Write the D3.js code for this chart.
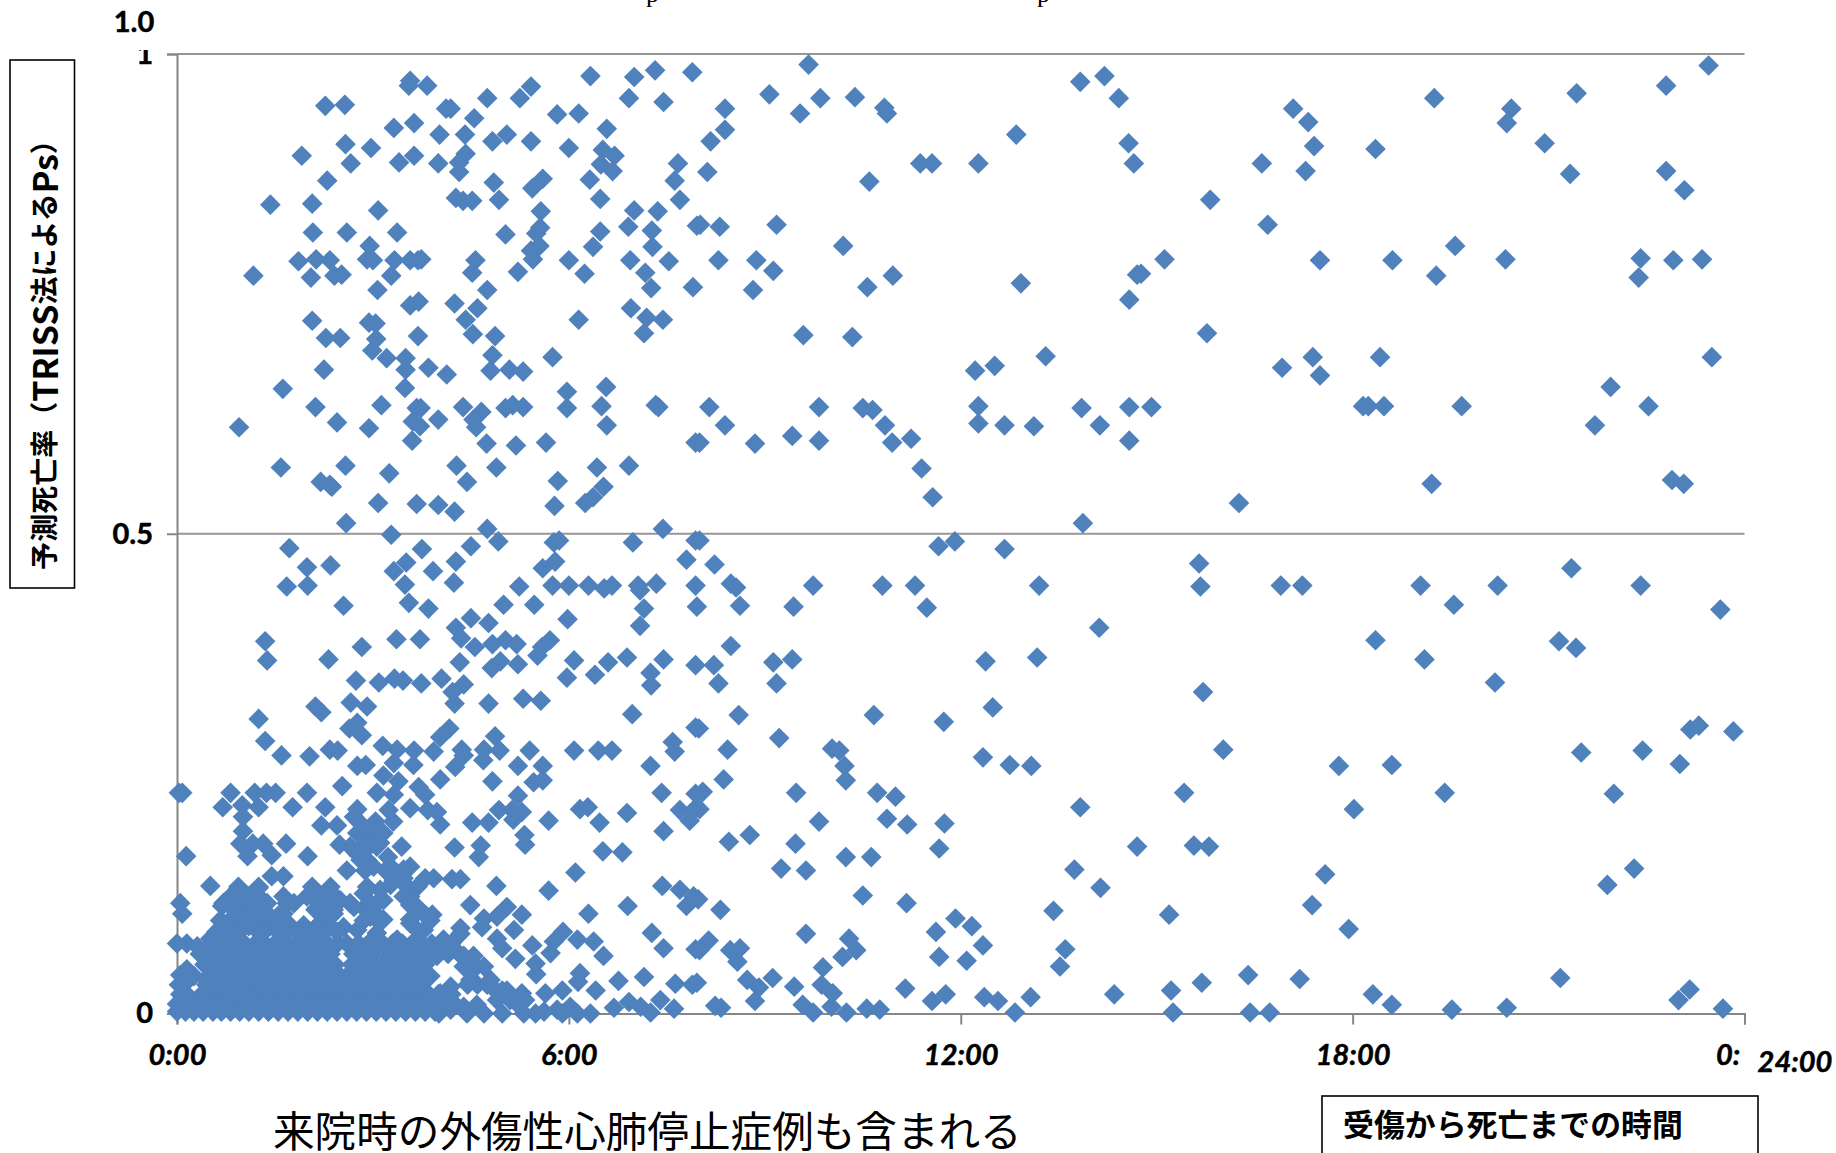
<!DOCTYPE html>
<html lang="ja"><head><meta charset="utf-8">
<script src="https://cdn.jsdelivr.net/npm/d3@7"></script>
<style>html,body{margin:0;padding:0;background:#fff;overflow:hidden}svg{display:block}</style>
</head><body><svg id="c" width="1836" height="1153"></svg>
<script>
const xTickHours=[0,6,12,18,24];
const xTickLabels=["0:00","6:00","12:00","18:00","0:"];
const yTickValues=[1,0.5,0];
const yTickLabels=["1","0.5","0"];
const yAxisTitleParts=["予測死亡率（","TRISS","法による","Ps","）"];
const xAxisTitle="受傷から死亡までの時間";
const caption="来院時の外傷性心肺停止症例も含まれる";
const extraTopLabel="1.0";
const extraEndLabel="24:00";
// [hours from injury to death, predicted survival Ps]
const upperLeft=[[3.57,.972],[3.55,.967],[3.83,.967],[6.33,.977],[7,.976],[7.32,.983],[7.89,.981],[2.27,.946],[2.57,.947],[4.75,.954],[5.42,.966],[5.25,.954],[6.92,.954],[7.45,.95],[4.12,.943],[4.19,.943],[4.55,.933],[5.82,.937],[6.15,.938],[6.58,.922],[3.32,.923],[3.63,.928],[4.02,.916],[4.41,.916],[5.05,.916],[4.83,.909],[5.42,.909],[6,.902],[2.58,.906],[2.97,.902],[1.91,.894],[2.66,.886],[3.4,.887],[3.63,.894],[4,.886],[4.42,.896],[4.32,.887],[4.32,.877],[6.52,.9],[6.7,.894],[6.49,.885],[6.67,.878],[7.67,.886],[7.62,.868],[6.32,.869],[4.85,.866],[2.3,.868],[5.6,.87],[5.44,.86],[6.48,.849],[7.7,.848],[1.43,.843],[2.07,.844],[4.27,.85],[4.38,.847],[4.52,.847],[4.93,.848],[3.08,.837],[5.57,.836],[7,.837],[7.36,.836],[6.91,.82],[7.96,.821],[2.08,.814],[2.6,.814],[3.37,.814],[5.03,.812],[5.56,.819],[5.5,.813],[6.48,.815],[7.27,.816],[2.95,.8],[6.37,.799],[7.28,.799],[5.55,.8],[5.42,.795],[5.45,.786],[1.86,.784],[2.13,.786],[2.34,.785],[2.91,.786],[3,.785],[3.33,.785],[3.57,.785],[3.69,.785],[3.74,.786],[4.57,.785],[6,.785],[6.94,.785],[7.53,.784],[1.17,.769],[2.05,.767],[2.41,.769],[2.52,.77],[3.28,.769],[4.52,.772],[5.22,.773],[6.24,.771],[7.17,.772],[7.9,.757],[3.07,.754],[4.75,.754],[7.26,.756],[3.7,.742],[3.57,.738],[4.25,.74],[4.6,.735],[6.95,.735],[2.07,.722],[2.94,.72],[3.04,.719],[4.42,.723],[6.15,.723],[7.19,.725],[7.44,.723],[4.53,.708],[4.87,.706],[2.28,.704],[2.5,.704],[3.05,.703],[3.69,.706],[7.15,.709],[2.99,.691],[3.21,.683],[3.5,.683],[4.83,.686],[5.75,.684],[3.5,.671],[3.85,.673],[4.13,.666],[2.25,.671],[4.8,.67],[5.09,.671],[5.3,.669]];
const middleLeft=[[1.62,.651],[3.49,.652],[5.97,.648],[6.57,.653],[2.12,.632],[3.13,.634],[3.67,.631],[3.73,.631],[4.38,.632],[4.66,.627],[5.03,.631],[5.14,.634],[5.3,.632],[5.97,.631],[6.5,.633],[7.33,.634],[7.37,.632],[.95,.611],[2.45,.616],[2.94,.61],[3.61,.617],[3.72,.612],[4,.619],[4.54,.619],[4.58,.611],[6.58,.613],[3.6,.597],[4.74,.594],[5.19,.592],[5.65,.595],[7.94,.595],[1.59,.569],[2.58,.571],[3.25,.563],[4.28,.571],[4.89,.569],[6.43,.569],[6.92,.571],[2.2,.554],[2.34,.551],[2.37,.549],[4.44,.554],[5.83,.555],[6.53,.549],[6.37,.538],[6.25,.532],[3.08,.532],[3.67,.531],[4,.53],[4.25,.523],[5.78,.529],[2.59,.511],[4.75,.505],[3.28,.499],[7.44,.505],[1.72,.485],[3.75,.484],[4.92,.492],[4.5,.487],[5.77,.491],[5.85,.493],[6.98,.491],[7.94,.493],[1.99,.465],[2.35,.467],[3.51,.47],[3.32,.461],[3.92,.461],[4.27,.471],[5.79,.471],[5.6,.464],[7.8,.473],[1.68,.445],[2,.446],[3.49,.447],[4.24,.449],[5.24,.445],[5.75,.446],[6,.446],[6.3,.446],[6.54,.443],[6.66,.446],[7.06,.446],[7.09,.441],[7.34,.448],[7.94,.446],[2.55,.425],[3.55,.428],[3.85,.422],[5,.426],[5.47,.426],[7.15,.422],[7.96,.424],[4.5,.412],[5.98,.411],[4.77,.407],[4.27,.402],[7.09,.404],[1.35,.388],[3.36,.39],[3.72,.39],[4.35,.391],[5.03,.389],[5.71,.389],[2.83,.382],[4.56,.382],[4.83,.385],[5.2,.385],[5.59,.382],[1.38,.368],[2.32,.369],[4.33,.366],[4.95,.367],[4.82,.36],[5.22,.364],[5.52,.373],[6.08,.368],[6.6,.366],[6.89,.371],[7.45,.369],[7.94,.363],[5.97,.35],[6.4,.353],[7.25,.355],[2.74,.347],[3.09,.345],[3.33,.349],[3.46,.347],[3.74,.344],[4.05,.349],[4.39,.343],[4.22,.335],[7.26,.342],[2.12,.32],[2.66,.324],[2.91,.32],[4.25,.323],[4.77,.323],[5.3,.328],[5.57,.326]];
const lowerLeft=[[2.21,.314],[1.25,.307],[6.97,.312],[7.94,.298],[1.35,.284],[1.6,.269],[2.03,.268],[2.76,.303],[2.64,.297],[2.83,.29],[4.17,.297],[4.03,.288],[3.93,.273],[4.87,.289],[7.59,.283],[7.62,.273],[3.15,.279],[3.37,.275],[3.63,.274],[2.34,.275],[2.46,.274],[4.36,.275],[4.7,.275],[4.94,.274],[5.4,.274],[6.08,.274],[6.45,.274],[6.66,.274],[2.76,.258],[2.89,.259],[3.32,.261],[3.62,.259],[4.26,.257],[4.39,.269],[4.69,.264],[5.22,.258],[5.6,.258],[7.25,.258],[3.16,.248],[4.03,.244],[4.83,.242],[5.6,.243],[5.46,.241],[2.53,.237],[3.39,.242],[3.7,.236],[.08,.23],[.03,.23],[.82,.23],[1.19,.23],[1.37,.23],[1.51,.23],[1.99,.23],[3.06,.23],[3.32,.228],[3.8,.228],[5.22,.227],[7.42,.23],[7.94,.229],[.7,.215],[1,.217],[1.25,.215],[1.77,.215],[2.27,.215],[2.76,.213],[3.24,.212],[3.57,.214],[3.84,.212],[3.98,.21],[4.93,.212],[5.13,.212],[5.28,.21],[6.17,.213],[6.29,.215],[6.89,.209],[7.7,.212],[7.91,.212],[1.01,.205],[4.52,.199],[4.77,.199],[5.15,.202],[5.69,.201],[6.47,.199],[7.85,.201],[2.21,.196],[2.45,.196],[2.78,.2],[3.04,.2],[3.31,.2],[4.03,.197],[1.01,.19],[5.32,.186],[7.45,.19],[2.91,.188],[.97,.177],[1.16,.177],[1.32,.177],[1.67,.177],[2.49,.176],[2.65,.174],[3.01,.179],[3.11,.178],[3.44,.174],[4.25,.173],[4.65,.175],[5.33,.176],[.14,.164],[1.08,.164],[1.45,.165],[2,.164],[2.78,.165],[3.23,.163],[4.62,.163],[6.52,.169],[6.82,.168],[2.6,.149],[2.88,.149],[3.19,.149],[6.1,.147],[1.63,.143],[1.45,.143],[3.37,.146],[3.47,.141],[3.8,.141],[3.93,.141],[4.21,.14],[4.34,.14],[.51,.133],[.94,.132],[1.25,.132],[2.07,.132],[2.35,.132],[2.91,.132],[3.27,.134],[4.89,.133],[5.69,.128],[7.43,.133],[7.7,.129],[7.91,.122],[3.57,.129],[1.63,.122],[1.99,.122],[.71,.115],[.97,.118],[1.28,.12],[2.3,.118],[2.65,.115],[.05,.115],[4.49,.113],[5.05,.111],[6.9,.112],[7.8,.112],[2.86,.11],[3.57,.113],[3.91,.103],[.08,.104],[2.12,.108],[5.28,.103],[6.3,.104],[.66,.097],[1.02,.101],[1.28,.101],[1.63,.104],[2.35,.101],[3.11,.099],[4.7,.099],[4.9,.101],[1.94,.092],[3.01,.101],[5.16,.087],[4.67,.09],[4.34,.089],[3.57,.094],[2.55,.09],[5.91,.085],[7.27,.084],[.51,.078],[.15,.073],[0,.073],[4.9,.078],[5.44,.071],[6.13,.077],[6.38,.075],[5.77,.075],[7.45,.068],[7.94,.067],[4.98,.068],[5.18,.057],[4.34,.061],[6.53,.06],[5.72,.063],[5.49,.052],[5.5,.041],[6.17,.042],[6.14,.033],[7.15,.038],[7.63,.031],[6.76,.034],[7.89,.03],[5.9,.024],[5.64,.021],[6.41,.024],[7.4,.014],[6.92,.012],[6.69,.006],[7.1,.007],[7.25,.001],[7.61,.005],[6.33,0],[6.02,.007],[6.13,0],[5.82,.004],[5.62,.002],[5.33,.014],[5.1,.014],[4.9,.014],[4.59,.009],[4.44,0],[4.7,0],[4.98,0],[5.31,0],[5.49,0],[5.9,0],[4.19,.028],[4.01,0],[4.59,.049],[4.8,.035],[4.98,.024],[5.18,.012],[4.39,.049]];
const denseBlob=[[.87,.108],[1.17,.111],[.87,.094],[1.17,.092],[1.43,.091],[2.2,.113],[2.45,.118],[2.4,.104],[1.79,.115],[1.74,.091],[2.14,.091],[2.86,.125],[2.96,.115],[2.86,.097],[3.06,.084],[3.37,.077],[3.57,.098],[3.57,.122],[3.32,.139],[3.16,.118],[2.91,.16],[2.86,.177],[2.76,.188],[3.06,.191],[2.94,.174],[3.47,.15],[3.52,.132],[3.78,.087],[4.08,.077],[4.34,.083],[3.83,.101],[3.98,.06],[3.73,.049],
[.69,.112],[.82,.122],[.94,.129],[1.1,.122],[1.25,.131],[1.38,.115],[1.1,.104],[.87,.101],[.71,.094],[1.1,.091],[1.43,.101],[1.53,.087],[1.99,.087],[1.68,.115],[1.58,.104],[2.07,.122],[2.2,.122],[2.35,.127],[2.5,.118],[2.25,.104],[2.4,.108],[2.14,.11],[2.35,.091],[2.76,.087],[2.71,.111],[2.96,.101],[3.06,.115],[3.16,.098],[3.68,.087],[3.11,.129],[3.01,.153],[3.27,.153],[3.57,.153],[3.68,.132],[3.47,.122],[3.68,.111],[3.88,.097],[3.06,.174],[2.81,.16],[3.16,.188],[2.71,.205],
[3.32,.049],[3.21,.032],[3.52,.028],[3.78,.025],[3.88,.039],[4.03,.021],[4.19,.014],[3.88,.01],[4.19,.004],[4.39,.007],[4.49,.035],[4.7,.049],[4.82,.028],[4.54,.06],[4.39,.06],[4.19,.07],[5.05,.024],[5.28,.021],
[.26,.039],[.1,.03],[.36,.014],[.15,.014],[.15,.046],[.46,.035],[.31,.07]];
const denseRowPs=[.085,.073,.062,.051,.04,.03,.02,.01,.002];
const denseRowHours=[
[.6,.8,.95,1.25,1.33,1.6,1.68,1.85,2.05,2.25,2.45],
[.55,.72,.88,1.03,1.2,1.34,1.5,1.67,1.82,1.98,2.12,2.3,2.46,2.6,2.78,2.93,3.08,3.15,3.3,3.45,3.6,3.75,3.9,4.05,4.2],
[.35,.5,.64,.8,.97,1.1,1.27,1.42,1.6,1.75,1.9,2.05,2.2,2.35,2.7,2.85,3,3.28,3.4,3.55,3.7,3.85,4.15],
[.42,.6,.75,.9,1.05,1.2,1.35,1.52,1.68,1.82,1.97,2.12,2.28,2.42,2.68,2.8,3,3.15,3.5,3.65,3.8],
[.05,.15,.5,.68,.83,.98,1.13,1.28,1.44,1.6,1.75,1.9,2.03,2.18,2.33,2.48,2.62,2.78,2.92,3.05,3.2,3.35,3.5,3.65,3.8],
[.03,.45,.55,.7,.85,1,1.15,1.3,1.45,1.62,1.78,1.92,2.08,2.22,2.38,2.52,2.68,2.82,2.96,3.12,3.28,3.42,3.58,3.7,4.45,4.6,4.75],
[.05,.15,.38,.5,.62,.78,.92,1.08,1.22,1.38,1.54,1.7,1.85,2,2.15,2.3,2.45,2.6,2.75,2.9,3.05,3.2,3.35,3.5,3.65,3.78,4,4.2],
[0,.1,.22,.35,.48,.6,.75,.9,1.05,1.2,1.35,1.5,1.65,1.8,1.95,2.1,2.25,2.4,2.55,2.7,2.85,3,3.15,3.3,3.45,3.6,3.75,3.85,4.05,4.22],
[0,.13,.26,.4,.55,.68,.82,.96,1.1,1.25,1.4,1.55,1.7,1.85,2,2.15,2.3,2.45,2.6,2.75,2.9,3.05,3.2,3.35,3.5,3.65,3.8,3.95]];
const middleColumn=[[9.67,.989],[9.07,.958],[9.85,.954],[10.38,.955],[10.83,.944],[10.87,.938],[9.54,.938],[8.39,.943],[8.39,.921],[8.17,.909],[13.83,.971],[14.2,.977],[14.42,.954],[12.85,.916],[14.57,.907],[14.65,.886],[11.38,.886],[11.56,.886],[12.27,.886],[8.12,.877],[10.6,.867],[8.01,.822],[8.31,.82],[9.18,.822],[10.2,.8],[8.29,.785],[8.87,.785],[9.13,.774],[8.82,.754],[10.96,.769],[10.57,.757],[12.92,.761],[14.76,.771],[14.7,.77],[15.12,.786],[14.58,.744],[9.59,.707],[10.34,.705],[15.77,.709],[12.52,.675],[12.22,.67],[13.3,.685],
[8.15,.632],[8.39,.613],[8,.595],[8.85,.594],[9.42,.602],[9.83,.632],[9.83,.597],[10.5,.631],[10.65,.629],[10.84,.613],[10.95,.595],[11.24,.599],[11.4,.568],[11.57,.538],[12.27,.633],[12.27,.615],[12.67,.613],[13.12,.612],[13.85,.631],[14.13,.613],[14.58,.632],[14.92,.632],[14.58,.597],[13.87,.511],[8,.493],[11.66,.487],[11.91,.492],[12.67,.484],[8.23,.468],[15.65,.469],[15.67,.445],[8.48,.448],[8.56,.444],[9.74,.446],[10.8,.446],[11.3,.446],[13.2,.446],[11.48,.423],[8.62,.425],[9.44,.424],[14.12,.402],[8.48,.383],[9.13,.366],[9.42,.369],[12.38,.367],[13.17,.371],[8.22,.363],[8.29,.344],[9.18,.344],[15.71,.335],[8.6,.311],[10.67,.311],[7.99,.297],[11.74,.304],[12.49,.319],[9.22,.287],[8.43,.275],[10.03,.276],[10.14,.274],[10.22,.258],[10.24,.243],[12.34,.267],[12.75,.259],[13.08,.258],[8.37,.244],[8.05,.231],[9.48,.23],[10.72,.23],[11,.226],[13.83,.215],[15.42,.23],[8,.213],[9.83,.2],[10.87,.203],[11.18,.197],[11.75,.198],[8.77,.186],[8.45,.179],[9.47,.177],[11.67,.172],[14.7,.174],[15.57,.175],[15.8,.174],[10.24,.163],[10.63,.163],[9.25,.151],[9.63,.149],[13.74,.15],[14.14,.131],[10.5,.123],[11.17,.115],[7.98,.119],[8.32,.108],[13.42,.107],[15.19,.103],[11.92,.099],[11.62,.085],[12.17,.091],[12.34,.071],[11.67,.059],[12.09,.055],[13.6,.067],[13.52,.049],[9.63,.083],[10.29,.078],[10.4,.066],[10.19,.059],[8.14,.076],[8,.066],[8.47,.066],[8.62,.068],[8.58,.054],[9.89,.048],[9.12,.037],[8.73,.035],[8.91,.027],[9.45,.028],[9.87,.03],[10.04,.021],[7.96,.032],[8.85,.013],[8.24,.008],[8.33,.006],[9.58,.009],[9.74,.001],[10.02,.007],[10.25,.001],[10.56,.005],[10.76,.004],[11.15,.026],[11.56,.013],[11.77,.02],[12.36,.017],[12.57,.013],[12.83,.001],[13.07,.017],[14.35,.02],[15.22,.024],[15.25,.001],[15.69,.032]];
const rightColumn=[[17.09,.943],[17.32,.929],[17.41,.904],[16.61,.886],[17.28,.878],[18.35,.901],[19.25,.954],[20.43,.943],[20.36,.928],[21.43,.959],[20.94,.907],[21.33,.875],[22.8,.967],[23.45,.988],[22.8,.878],[23.08,.858],[15.82,.848],[16.7,.822],[17.5,.785],[18.61,.785],[19.57,.8],[19.28,.769],[20.34,.786],[22.41,.787],[22.38,.767],[22.91,.785],[23.35,.786],[16.26,.532],[17.39,.684],[16.92,.673],[17.5,.665],[18.42,.684],[18.16,.633],[18.24,.633],[18.48,.633],[19.67,.633],[21.95,.653],[22.53,.633],[21.71,.613],[23.5,.684],[19.21,.552],[22.89,.556],[23.07,.552],
[16.9,.446],[17.23,.446],[19.04,.446],[19.55,.426],[20.22,.446],[21.35,.464],[22.41,.446],[23.63,.421],[18.35,.389],[19.1,.369],[21.16,.388],[21.42,.381],[20.18,.345],[16.02,.275],[17.79,.258],[18.6,.259],[21.5,.272],[22.44,.274],[23.01,.26],[23.17,.296],[23.3,.3],[23.83,.294],[19.41,.23],[22,.229],[18.02,.213],[17.58,.145],[17.38,.113],[17.94,.088],[21.9,.134],[22.31,.151],[16.4,.04],[17.19,.036],[18.31,.02],[18.6,.009],[19.52,.004],[20.36,.006],[21.18,.037],[23.16,.025],[22.99,.014],[23.67,.005],[16.43,.001],[16.73,.001]];

const denseRows=denseRowPs.flatMap((p,i)=>denseRowHours[i].map(h=>[h,p]));
const points=[...upperLeft,...middleLeft,...lowerLeft,...denseBlob,...denseRows,...middleColumn,...rightColumn];

const svg=d3.select("#c");
const gray="#868686", blue="#4F81BD";
const x=d3.scaleLinear().domain([0,24]).range([177,1744.5]);
const y=d3.scaleLinear().domain([0,1]).range([1013.5,54]);

svg.append("g").selectAll("line").data([1,0.5]).join("line")
  .attr("x1",x(0)).attr("x2",x(24)).attr("y1",d=>y(d)).attr("y2",d=>y(d))
  .attr("stroke","#969696").attr("stroke-width",2);

const xAxis=d3.axisBottom(x).tickValues(xTickHours).tickSize(11).tickPadding(20)
  .tickFormat((d,i)=>xTickLabels[i]);
const gx=svg.append("g").attr("transform",`translate(0,${y(0)})`).call(xAxis);
gx.select(".domain").attr("stroke",gray).attr("stroke-width",2);
gx.selectAll(".tick line").attr("stroke",gray).attr("stroke-width",2);
gx.selectAll(".tick text").attr("fill","#000").attr("stroke","#000").attr("stroke-width",.5)
  .style("font","italic bold 29px Lato, 'Open Sans', sans-serif");
gx.selectAll(".tick text").filter((d,i)=>i===4).attr("text-anchor","start").attr("dx",-29);

const yAxis=d3.axisLeft(y).tickValues(yTickValues).tickSize(10).tickPadding(14)
  .tickFormat((d,i)=>yTickLabels[i]);
const gy=svg.append("g").attr("transform",`translate(${x(0)},0)`).call(yAxis);
gy.select(".domain").attr("stroke",gray).attr("stroke-width",2);
gy.selectAll(".tick line").attr("stroke",gray).attr("stroke-width",2);
gy.selectAll(".tick text").attr("fill","#000").attr("stroke","#000").attr("stroke-width",.5)
  .style("font","bold 29px Lato, 'Open Sans', sans-serif");

// the top of the "1" label is hidden in the reference
svg.append("rect").attr("x",125).attr("y",30).attr("width",40).attr("height",20).attr("fill","#fff");

svg.append("g").selectAll("path").data(points).join("path")
  .attr("d",d3.symbol(d3.symbolDiamond2,272))
  .attr("transform",d=>`translate(${x(d[0])},${y(d[1])})`)
  .attr("fill",blue);

svg.append("text").attr("x",134).attr("y",32).attr("text-anchor","middle").attr("stroke","#000").attr("stroke-width",.5)
  .style("font","bold 29px Lato, sans-serif").text(extraTopLabel);
svg.append("text").attr("x",1795).attr("y",1072).attr("text-anchor","middle").attr("stroke","#000").attr("stroke-width",.5)
  .style("font","italic bold 29px Lato, sans-serif").text(extraEndLabel);

svg.append("g").selectAll("text").data(["p","p"]).join("text")
  .attr("x",(d,i)=>[646,1037][i]).attr("y",2)
  .style("font","26px 'Liberation Serif', serif").text(d=>d);

svg.append("rect").attr("x",10).attr("y",60).attr("width",64.5).attr("height",528)
  .attr("fill","#fff").attr("stroke","#000").attr("stroke-width",1.6);
const yt=svg.append("text").attr("transform","translate(43,348) rotate(-90)").attr("text-anchor","middle")
  .attr("dominant-baseline","central")
  .style("font","bold 28px 'Noto Sans CJK JP', sans-serif");
yt.selectAll("tspan").data(yAxisTitleParts).join("tspan")
  .attr("font-size",(d,i)=>(i===1||i===3)?34:28).text(d=>d);

svg.append("rect").attr("x",1322).attr("y",1096).attr("width",436).attr("height",80)
  .attr("fill","#fff").attr("stroke","#000").attr("stroke-width",1.6);
svg.append("text").attr("x",1343).attr("y",1136)
  .style("font","bold 30.9px 'Noto Sans CJK JP', sans-serif").text(xAxisTitle);

svg.append("text").attr("x",273).attr("y",1147)
  .style("font","41.6px 'Noto Sans CJK JP', sans-serif").text(caption);
</script></body></html>
